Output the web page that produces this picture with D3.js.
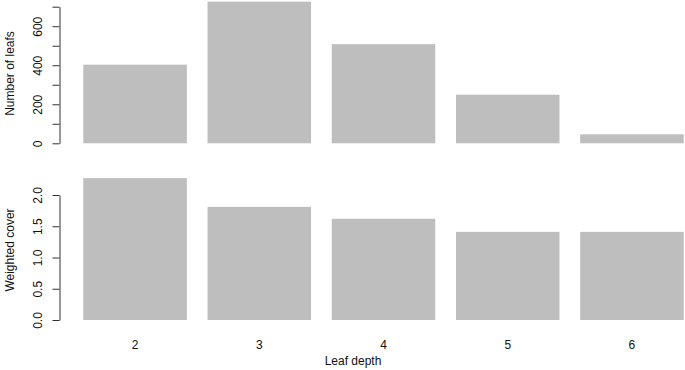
<!DOCTYPE html>
<html>
<head>
<meta charset="utf-8">
<script src="https://cdn.jsdelivr.net/npm/d3@7"></script>
<style>
  body { margin: 0; background: #fff; }
  text { font-family: "Liberation Sans", Arial, sans-serif; font-size: 12px; fill: #111; }
</style>
</head>
<body>
<script>
// Data
const depths = ["2", "3", "4", "5", "6"];
const leafCounts = [403, 726, 508, 249, 46];
const weightedCover = [2.27, 1.81, 1.62, 1.41, 1.41];
const countTicks = [0, 100, 200, 300, 400, 500, 600, 700];
const coverTicks = [0, 0.5, 1.0, 1.5, 2.0];

const width = 685, height = 370;
const axisX = 59.5;
const barFill = "#bebebe";

const svg = d3.select("body").append("svg")
    .attr("width", width)
    .attr("height", height);

svg.append("rect")
    .attr("width", width)
    .attr("height", height)
    .attr("fill", "#fff");

// shared x scale (R barplot: width 1, space 0.2)
const xScale = d3.scaleBand()
    .domain(depths)
    .range([72.95, 694.05])
    .paddingInner(1 / 6)
    .paddingOuter(1 / 12);

// --- top panel: number of leafs ---
const yTop = d3.scaleLinear().domain([0, 700]).range([143.3, 6.7]);

svg.selectAll(".bar-top")
    .data(leafCounts)
    .enter().append("rect")
    .attr("class", "bar-top")
    .attr("x", (d, i) => xScale(depths[i]))
    .attr("width", xScale.bandwidth())
    .attr("y", d => yTop(d))
    .attr("height", d => yTop(0) - yTop(d))
    .attr("fill", barFill);

// --- bottom panel: weighted cover ---
const yBottom = d3.scaleLinear().domain([0, 2]).range([320, 195]);

svg.selectAll(".bar-bottom")
    .data(weightedCover)
    .enter().append("rect")
    .attr("class", "bar-bottom")
    .attr("x", (d, i) => xScale(depths[i]))
    .attr("width", xScale.bandwidth())
    .attr("y", d => yBottom(d))
    .attr("height", d => yBottom(0) - yBottom(d))
    .attr("fill", barFill);

// y axes, labels rotated like R's las=0
function drawYAxis(scale, ticks, fmt) {
    const g = svg.append("g")
        .attr("transform", `translate(${axisX},0)`)
        .call(d3.axisLeft(scale)
            .tickValues(ticks)
            .tickFormat(fmt)
            .tickSize(7)
            .tickSizeOuter(0));
    g.select(".domain").attr("stroke", "#333");
    g.selectAll(".tick line").attr("stroke", "#333");
    g.selectAll(".tick text")
        .attr("transform", "rotate(-90)")
        .attr("x", 0)
        .attr("y", -17.5)
        .attr("dy", 0)
        .attr("text-anchor", "middle")
        .attr("fill", "#111")
        .style("font-family", "'Liberation Sans', Arial, sans-serif")
        .style("font-size", "12px");
    return g;
}

drawYAxis(yTop, countTicks, d => d % 200 === 0 ? d : "");
drawYAxis(yBottom, coverTicks, d3.format(".1f"));

// category labels under the bottom panel
const xAxis = svg.append("g")
    .attr("transform", "translate(0,320)")
    .call(d3.axisBottom(xScale).tickSize(0).tickPadding(20));
xAxis.select(".domain").remove();
xAxis.selectAll("text")
    .attr("fill", "#111")
    .style("font-family", "'Liberation Sans', Arial, sans-serif")
    .style("font-size", "12px");

// axis titles
svg.append("text")
    .attr("transform", "translate(14,73.5) rotate(-90)")
    .attr("text-anchor", "middle")
    .text("Number of leafs");

svg.append("text")
    .attr("transform", "translate(14,250) rotate(-90)")
    .attr("text-anchor", "middle")
    .text("Weighted cover");

svg.append("text")
    .attr("x", 353)
    .attr("y", 365)
    .attr("text-anchor", "middle")
    .text("Leaf depth");
</script>
</body>
</html>
